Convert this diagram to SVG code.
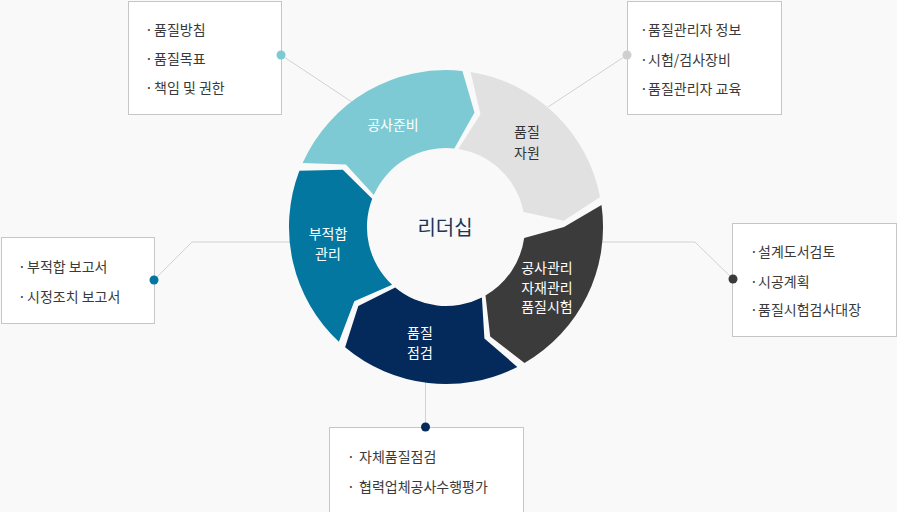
<svg xmlns="http://www.w3.org/2000/svg" width="897" height="512" viewBox="0 0 897 512">
<style>
text{font-family:"Noto Sans CJK KR","Noto Sans",sans-serif;}
.box{fill:#ffffff;stroke:#c6c6c6;stroke-width:1;}
.item{font-size:14px;fill:#3a3a3a;}
.lbl{font-size:14px;fill:#ffffff;text-anchor:middle;}
.conn{fill:none;stroke:#d2d2d2;stroke-width:1;}
</style>
<rect width="897" height="512" fill="#f9f9f9"/>
<g id="connectors">
<line class="conn" x1="281" y1="55" x2="352" y2="102"/>
<line class="conn" x1="627" y1="55" x2="548" y2="107"/>
<polyline class="conn" points="154,280 192,242 292,242"/>
<polyline class="conn" points="733,279 695,242 600,242"/>
<line class="conn" x1="425.5" y1="380" x2="425.5" y2="427"/>
</g>
<g id="ring">
<g id="seg-prep">
<path d="M302.6,163.1 A157,157 0 0 1 462.4,70.9 L474.5,112.5 L454.3,148.4 A79,79 0 0 0 373.8,194.9 L345.9,164.5 Z" fill="#7ecad4"/>
<text class="lbl" x="393" y="130">공사준비</text>
</g>
<g id="seg-resource">
<path d="M470.6,71.9 A157,157 0 0 1 600.1,197 L563.8,220.8 L523.5,211.9 A79,79 0 0 0 458.4,149 L480.5,114.2 Z" fill="#e1e1e1"/>
<text class="lbl" x="527" y="137" style="fill:#333">품질</text>
<text class="lbl" x="527" y="158" style="fill:#333">자원</text>
</g>
<g id="seg-manage">
<path d="M601.5,205.1 A157,157 0 0 1 524.5,363 L490.2,336.4 L485.5,295.4 A79,79 0 0 0 524.2,238 L564,227 Z" fill="#3b3b3b"/>
<text class="lbl" x="547" y="273">공사관리</text>
<text class="lbl" x="547" y="293">자재관리</text>
<text class="lbl" x="547" y="312">품질시험</text>
</g>
<g id="seg-inspect">
<path d="M517.3,366.9 A157,157 0 0 1 345.1,347.3 L358.3,306 L395.2,287.5 A79,79 0 0 0 481.9,297.4 L484.4,338.6 Z" fill="#032a5a"/>
<text class="lbl" x="420" y="338">품질</text>
<text class="lbl" x="420" y="358">점검</text>
</g>
<g id="seg-nonconf">
<path d="M338.9,341.8 A157,157 0 0 1 299.4,170.7 L342.8,169.8 L372.2,198.7 A79,79 0 0 0 392.1,284.8 L354.3,301.3 Z" fill="#03779f"/>
<text class="lbl" x="328" y="239">부적합</text>
<text class="lbl" x="328" y="259">관리</text>
</g>
<g id="center">
<text x="445" y="235" style="font-size:20px;fill:#1d3557;text-anchor:middle">리더십</text>
</g>
</g>
<g id="box-prep">
<rect class="box" x="128.5" y="1.5" width="153" height="113"/>
<text class="item" y="35"><tspan x="145">·</tspan><tspan x="154">품질방침</tspan></text>
<text class="item" y="64"><tspan x="145">·</tspan><tspan x="154">품질목표</tspan></text>
<text class="item" y="93"><tspan x="145">·</tspan><tspan x="154">책임 및 권한</tspan></text>
<circle cx="281" cy="55" r="4.5" fill="#7ecad4"/>
</g>
<g id="box-resource">
<rect class="box" x="627.5" y="1.5" width="154" height="113"/>
<text class="item" y="35"><tspan x="640">·</tspan><tspan x="648">품질관리자 정보</tspan></text>
<text class="item" y="65"><tspan x="640">·</tspan><tspan x="648">시험/검사장비</tspan></text>
<text class="item" y="94"><tspan x="640">·</tspan><tspan x="648">품질관리자 교육</tspan></text>
<circle cx="627" cy="55" r="4.5" fill="#cfcfcf"/>
</g>
<g id="box-nonconf">
<rect class="box" x="1.5" y="237.5" width="153" height="86"/>
<text class="item" y="272"><tspan x="18">·</tspan><tspan x="27">부적합 보고서</tspan></text>
<text class="item" y="302"><tspan x="18">·</tspan><tspan x="27">시정조치 보고서</tspan></text>
<circle cx="154" cy="280" r="4.5" fill="#03779f"/>
</g>
<g id="box-manage">
<rect class="box" x="732.5" y="223.5" width="164" height="113"/>
<text class="item" y="257"><tspan x="750">·</tspan><tspan x="758">설계도서검토</tspan></text>
<text class="item" y="287"><tspan x="750">·</tspan><tspan x="758">시공계획</tspan></text>
<text class="item" y="315"><tspan x="750">·</tspan><tspan x="758">품질시험검사대장</tspan></text>
<circle cx="733" cy="279" r="4.5" fill="#3b3b3b"/>
</g>
<g id="box-inspect">
<rect class="box" x="329.5" y="427.5" width="194" height="90"/>
<text class="item" y="462"><tspan x="347">·</tspan><tspan x="359">자체품질점검</tspan></text>
<text class="item" y="492"><tspan x="347">·</tspan><tspan x="359">협력업체공사수행평가</tspan></text>
<circle cx="425.5" cy="427" r="4.5" fill="#032a5a"/>
</g>
</svg>
